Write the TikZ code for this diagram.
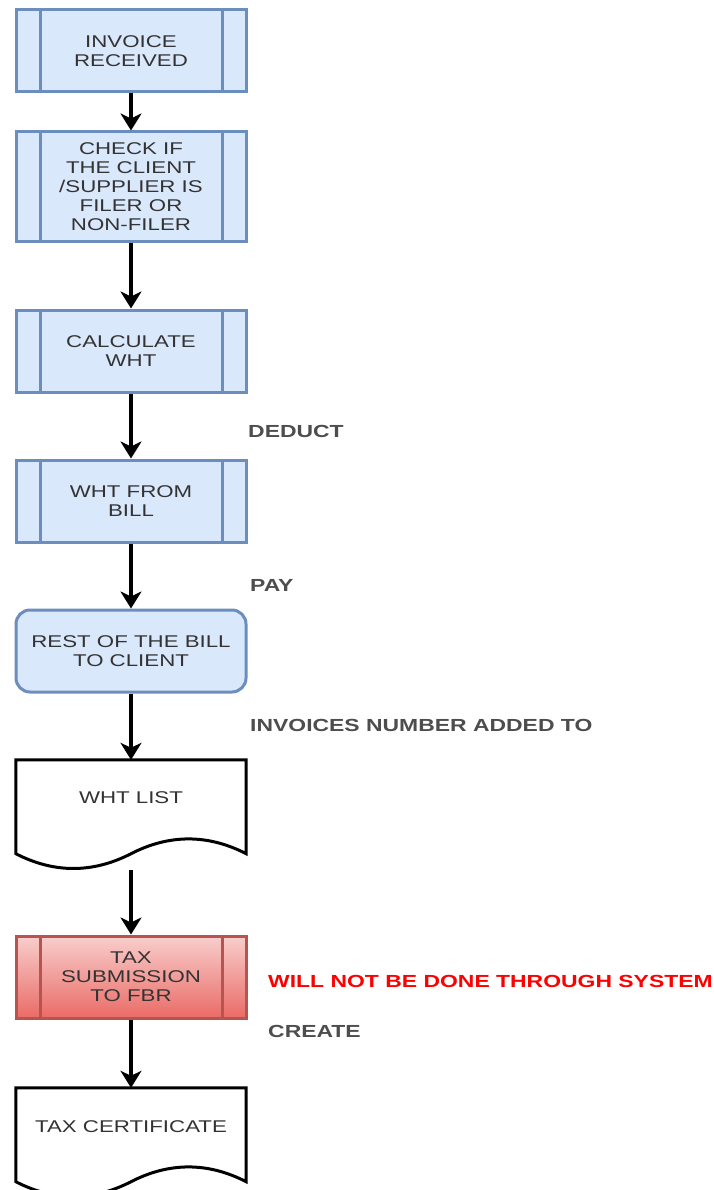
\documentclass[tikz,border=0pt]{standalone}
\usepackage{fontspec}
\setmainfont[FakeStretch=1.31]{Liberation Sans}
\usetikzlibrary{arrows.meta}

\definecolor{procfill}{HTML}{DAE8FC}
\definecolor{procline}{HTML}{6C8EBF}
\definecolor{redtop}{HTML}{F8CECC}
\definecolor{redbot}{HTML}{EA6B66}
\definecolor{redline}{HTML}{B85450}
\definecolor{textgray}{HTML}{333333}
\definecolor{notegray}{HTML}{4D4D4D}
\definecolor{warnred}{HTML}{FF0000}

\tikzset{
  boxtext/.style={font=\fontsize{17}{19}\selectfont, text=textgray, align=center, inner sep=0pt},
  procbox/.style={boxtext, draw=#1, line width=3pt,
    minimum width=230pt, minimum height=82pt,
    path picture={
      \draw[#1, line width=3pt]
        ([xshift=24pt]path picture bounding box.north west) -- ([xshift=24pt]path picture bounding box.south west)
        ([xshift=-24pt]path picture bounding box.north east) -- ([xshift=-24pt]path picture bounding box.south east);}},
  blueproc/.style={procbox=procline, fill=procfill},
  redproc/.style={procbox=redline, top color=redtop, bottom color=redbot},
  roundbox/.style={boxtext, draw=procline, fill=procfill, line width=3pt,
    rounded corners=14pt, minimum width=230pt, minimum height=82pt},
  docbox/.style={boxtext, minimum width=230pt, minimum height=110pt},
  docline/.style={draw=black, line width=3pt, fill=white},
  note/.style={anchor=west, font=\fontsize{17.5}{19}\selectfont\bfseries, text=notegray, inner sep=0pt},
  flow/.style={line width=3.5pt, -{Stealth[width=21pt,length=17pt,inset=5pt]}}
}

% outline of a document node: straight top and sides, wavy bottom
\newcommand\docwave[1]{%
  \draw[docline] (#1.north west) -- (#1.north east) -- ([yshift=16.5pt]#1.south east)
    .. controls +(-38.3,19.7) and +(38.3,19.7) .. ([yshift=16.5pt]#1.south)
    .. controls +(-38.3,-19.7) and +(38.3,-19.7) .. ([yshift=16.5pt]#1.south west) -- cycle;}

\begin{document}
\begin{tikzpicture}[x=1pt,y=1pt]
  \useasboundingbox (0,0) rectangle (713,-1190);

  \node[blueproc] (inv)  at (131,-51)  {INVOICE\\RECEIVED};
  \node[blueproc, minimum height=110pt] (chk) at (131,-187)
    {CHECK IF\\THE CLIENT\\/SUPPLIER IS\\FILER OR\\NON-FILER};
  \node[blueproc] (calc) at (131,-351) {CALCULATE\\WHT};
  \node[blueproc] (ded)  at (131,-501) {WHT FROM\\BILL};
  \node[roundbox] (rest) at (131,-651) {REST OF THE BILL\\TO CLIENT};

  \node[docbox] (wht)  at (131,-815)  {};
  \node[redproc] (fbr)  at (131,-977) {TAX\\SUBMISSION\\TO FBR};
  \node[docbox] (cert) at (131,-1143) {};

  % documents are drawn once their nodes exist
  \docwave{wht}
  \docwave{cert}
  \node[boxtext] (whttext)  at ([yshift=17pt]wht)  {WHT LIST};
  \node[boxtext] (certtext) at ([yshift=16pt]cert) {TAX CERTIFICATE};

  \begin{scope}[every edge/.style={draw, flow}]
    \path (inv)  edge (chk);
    \path (chk)  edge (calc);
    \path (calc) edge (ded);
    \path (ded)  edge (rest);
    \path (rest) edge (wht);
    \path (wht)  edge (fbr);
    \path (fbr)  edge (cert);
  \end{scope}

  \node[note] (deduct) at (248,-431)  {DEDUCT};
  \node[note] (pay)    at (250,-585)  {PAY};
  \node[note] (added)  at (250,-725)  {INVOICES NUMBER ADDED TO};
  \node[note, text=warnred] (system) at (268,-981) {WILL NOT BE DONE THROUGH SYSTEM};
  \node[note] (create) at (268,-1031) {CREATE};

\end{tikzpicture}
\end{document}
